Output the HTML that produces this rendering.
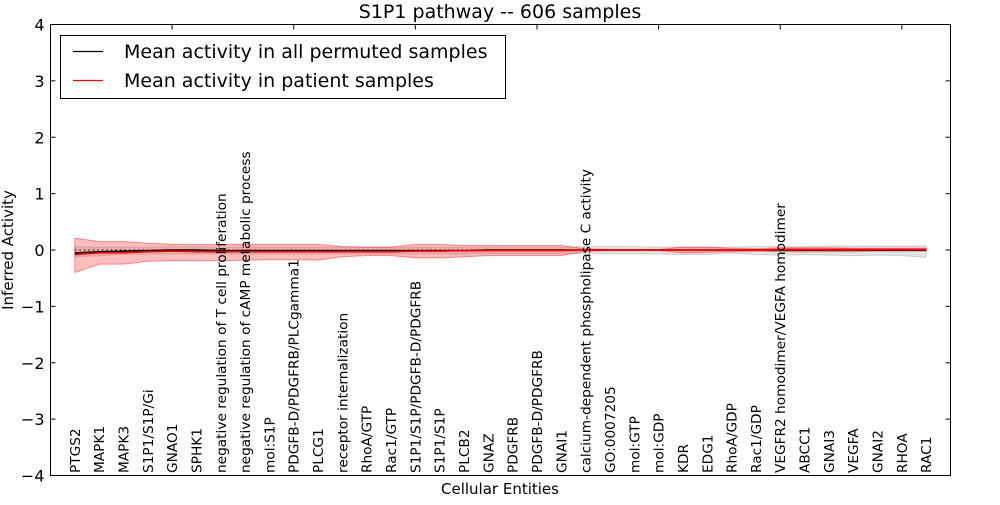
<!DOCTYPE html>
<html><head><meta charset="utf-8"><style>
body{margin:0;background:#fff;width:1000px;height:500px;overflow:hidden}
svg{font-family:"DejaVu Sans","Liberation Sans",sans-serif}
</style></head><body>
<svg id="chart" width="1000" height="500"></svg>
<script>
const categories=["PTGS2","MAPK1","MAPK3","S1P1/S1P/Gi","GNAO1","SPHK1","negative regulation of T cell proliferation","negative regulation of cAMP metabolic process","mol:S1P","PDGFB-D/PDGFRB/PLCgamma1","PLCG1","receptor internalization","RhoA/GTP","Rac1/GTP","S1P1/S1P/PDGFB-D/PDGFRB","S1P1/S1P","PLCB2","GNAZ","PDGFRB","PDGFB-D/PDGFRB","GNAI1","calcium-dependent phospholipase C activity","GO:0007205","mol:GTP","mol:GDP","KDR","EDG1","RhoA/GDP","Rac1/GDP","VEGFR2 homodimer/VEGFA homodimer","ABCC1","GNAI3","VEGFA","GNAI2","RHOA","RAC1"];
const patientMean=[-0.08,-0.05,-0.05,-0.03,-0.02,-0.03,-0.03,-0.03,-0.03,-0.03,-0.03,-0.03,-0.03,-0.03,-0.02,-0.02,-0.01,-0.01,-0.01,-0.01,-0.01,0,0,0,0,0,0,0,0,0.01,0.01,0.01,0.01,0.01,0.01,0.01];
const patientUpper=[0.21,0.15,0.15,0.12,0.1,0.1,0.1,0.1,0.1,0.1,0.1,0.06,0.05,0.05,0.1,0.1,0.08,0.08,0.08,0.08,0.08,0.02,0.01,0.01,0.01,0.05,0.05,0.03,0.02,0.04,0.04,0.04,0.03,0.03,0.03,0.03];
const patientLower=[-0.4,-0.25,-0.25,-0.2,-0.19,-0.19,-0.19,-0.18,-0.17,-0.17,-0.18,-0.12,-0.1,-0.1,-0.14,-0.14,-0.12,-0.1,-0.1,-0.1,-0.1,-0.02,-0.01,-0.01,-0.01,-0.05,-0.04,-0.03,-0.02,-0.03,-0.03,-0.03,-0.03,-0.02,-0.02,-0.02];
const permMean=[-0.05,-0.03,-0.02,-0.01,0,0,-0.01,-0.01,-0.01,-0.01,-0.01,-0.01,-0.01,-0.01,-0.01,-0.01,-0.01,0,0,0,0,0,0,0,0,0,0,0,0,0,0,0,0,0,0,0];
const permUpper=[0.06,0.05,0.05,0.05,0.06,0.06,0.05,0.05,0.05,0.05,0.05,0.05,0.05,0.05,0.05,0.05,0.05,0.05,0.05,0.05,0.05,0.06,0.06,0.06,0.05,0.05,0.05,0.05,0.06,0.06,0.06,0.07,0.07,0.07,0.07,0.07];
const permLower=[-0.12,-0.1,-0.08,-0.07,-0.07,-0.07,-0.07,-0.07,-0.07,-0.07,-0.07,-0.07,-0.07,-0.07,-0.07,-0.07,-0.07,-0.06,-0.06,-0.06,-0.06,-0.06,-0.06,-0.06,-0.07,-0.08,-0.08,-0.05,-0.08,-0.09,-0.08,-0.09,-0.1,-0.09,-0.1,-0.13];
const yTicks=[4,3,2,1,0,-1,-2,-3,-4];
const xTicks=[0,5,10,15,20,25,30,35];

const NS="http://www.w3.org/2000/svg",svg=document.getElementById('chart');
const L=50.5,R=950.5,T=24.5,B=475.5;
const X=v=>L+v*(R-L)/37, Y=v=>T+(4-v)*(B-T)/8;
function mk(t,a,p){const e=document.createElementNS(NS,t);for(const k in a)e.setAttribute(k,a[k]);(p||svg).appendChild(e);return e;}
function band(up,lo,fill,op,stroke,name){let d=up.map((v,i)=>(i?'L':'M')+X(i+1)+','+Y(v)).join('');for(let i=lo.length-1;i>=0;i--)d+='L'+X(i+1)+','+Y(lo[i]);d+='Z';const e=mk('path',{d:d,fill:fill,'fill-opacity':op,stroke:stroke,'stroke-opacity':0.4,'stroke-width':1});

}
function line(vals,col,name){const e=mk('path',{d:vals.map((v,i)=>(i?'L':'M')+X(i+1)+','+Y(v)).join(''),fill:'none',stroke:col,'stroke-width':1.5});

}
band(permUpper,permLower,'#888',0.22,'#999','permuted-band');
band(patientUpper,patientLower,'#f44',0.35,'#f00','patient-band');
const z=mk('line',{x1:X(1),x2:X(36),y1:Y(0),y2:Y(0),stroke:'#000','stroke-dasharray':'1.5,3','stroke-width':1});


line(permMean,'#000','permuted-mean-line');
line(patientMean,'#f00','patient-mean-line');
categories.forEach((c,i)=>{const t=mk('text',{x:0,y:0,transform:`translate(${X(i+1)+5},473) rotate(-90)`,'font-size':13.7,fill:'#000'});t.textContent=c;

});
const fr=mk('rect',{x:L,y:T,width:R-L,height:B-T,fill:'none',stroke:'#000','stroke-width':1});


yTicks.forEach(v=>{mk('line',{x1:L,x2:L+5,y1:Y(v),y2:Y(v),stroke:'#000'});mk('line',{x1:R-5,x2:R,y1:Y(v),y2:Y(v),stroke:'#000'});
const t=mk('text',{x:L-6,y:Y(v)+6,'text-anchor':'end','font-size':16});t.textContent=v<0?'\u2212'+(-v):v;

});
xTicks.forEach(v=>{mk('line',{x1:X(v),x2:X(v),y1:T,y2:T+5,stroke:'#000'});});
</script>
<svg width="1000" height="500" style="position:absolute;left:0;top:0">
<text x="500" y="18" text-anchor="middle" font-size="19">S1P1 pathway -- 606 samples</text>
<text x="500" y="494" text-anchor="middle" font-size="15">Cellular Entities</text>
<text transform="translate(13,250) rotate(-90)" text-anchor="middle" font-size="15">Inferred Activity</text>
<g>
<rect x="60.5" y="35.5" width="445" height="63" fill="#fff" stroke="#000"/>
<line x1="73" x2="103" y1="51.5" y2="51.5" stroke="#000" stroke-width="1.3"/>
<text x="124" y="58" font-size="19">Mean activity in all permuted samples</text>
<line x1="73" x2="103" y1="80.5" y2="80.5" stroke="#f00" stroke-width="1.3"/>
<text x="124" y="87" font-size="19">Mean activity in patient samples</text>
</g>
</svg>
</body></html>
